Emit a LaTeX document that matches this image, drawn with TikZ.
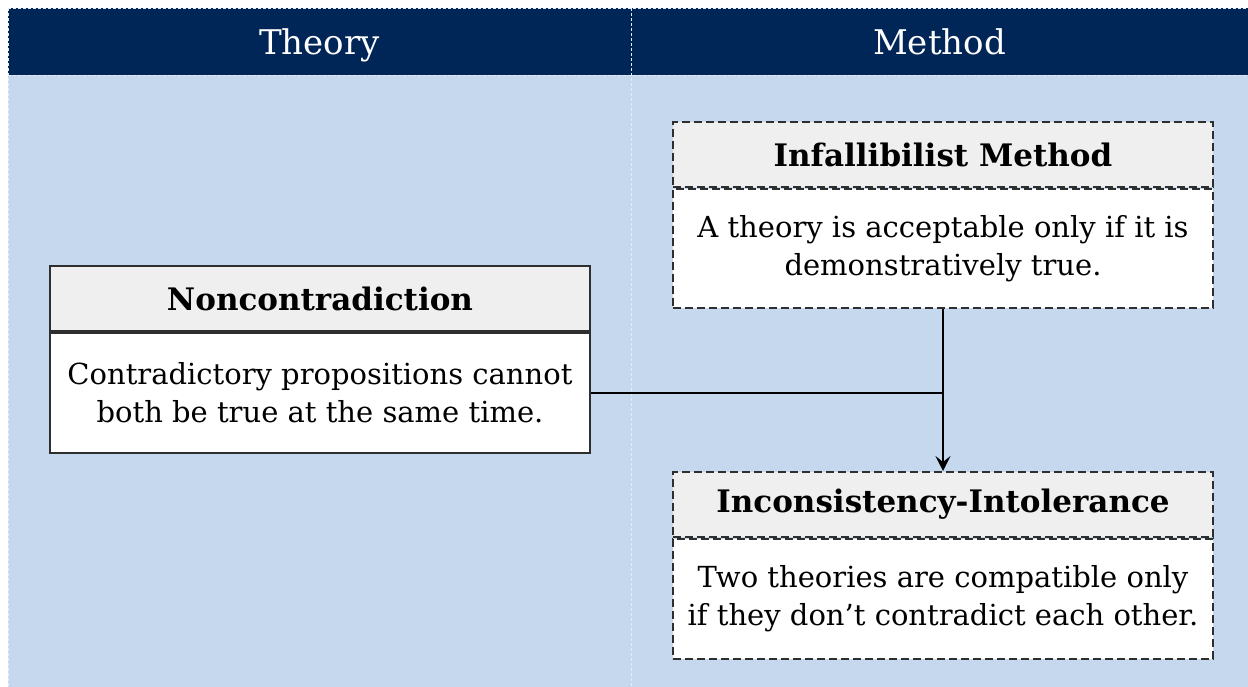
\documentclass[tikz,border=0pt]{standalone}
\usepackage{fontspec}
\setmainfont{DejaVu Serif}
\usetikzlibrary{arrows.meta}
\definecolor{navy}{HTML}{002658}
\definecolor{paleblue}{HTML}{C6D8ED}
\definecolor{titlegray}{HTML}{EFEFEF}
\definecolor{edgegray}{HTML}{2E2E2E}
\definecolor{sepwhite}{HTML}{E4ECF6}
\tikzset{
  headtext/.style={text=white, font=\fontsize{34}{40}\selectfont, inner sep=0pt, anchor=base},
  boxpart/.style={draw=edgegray, line width=2pt, minimum width=540pt, inner sep=0pt, align=center,
    font=\fontsize{29}{38}\selectfont},
  titlepart/.style={boxpart, fill=titlegray, minimum height=65pt, font=\fontsize{31}{38}\selectfont\bfseries},
  bodypart/.style={boxpart, fill=white},
  dashedbox/.style={dash pattern=on 8pt off 4pt},
  sepline/.style={sepwhite, line width=0.9pt, dash pattern=on 3pt off 2pt},
  conn/.style={black, line width=1.8pt},
}
\begin{document}
\begin{tikzpicture}[x=1pt,y=-1pt]
\useasboundingbox (0,0) rectangle (1248,687);
\fill[white] (0,0) rectangle (1248,687);
\fill[paleblue] (8,75) rectangle (1248,687);
\fill[navy] (8,8) rectangle (1248,75);
\draw[sepline] (8,8) -- (1248,8);
\draw[sepline] (8,75) -- (1248,75);
\draw[sepline] (8,8) -- (8,687);
\draw[sepline] (631,8) -- (631,687);

\node[headtext] (theory) at (319.5,55) {Theory};
\node[headtext] (method) at (939.5,55) {Method};

% Noncontradiction
\node[titlepart, anchor=north west] (nonT) at (49,265) {Noncontradiction};
\node[bodypart, minimum height=120pt, anchor=north] (nonB) at (nonT.south)
  {Contradictory propositions cannot\\both be true at the same time.};

% Infallibilist Method
\node[titlepart, dashedbox, anchor=north west] (infT) at (672,121) {Infallibilist Method};
\node[bodypart, dashedbox, minimum height=119pt, anchor=north] (infB) at (infT.south)
  {A theory is acceptable only if it is\\demonstratively true.};

% Inconsistency-Intolerance
\node[titlepart, dashedbox, anchor=north west] (incT) at (672,471) {Inconsistency-Intolerance};
\node[bodypart, dashedbox, minimum height=120pt, anchor=north] (incB) at (incT.south)
  {Two theories are compatible only\\if they don’t contradict each other.};

% connectors
\draw[conn] (nonB.east) -- (nonB.east -| infB.south);
\draw[conn, -{Stealth[length=15pt, width=15pt, inset=6pt]}] (infB.south) -- (incT.north);
\end{tikzpicture}
\end{document}
